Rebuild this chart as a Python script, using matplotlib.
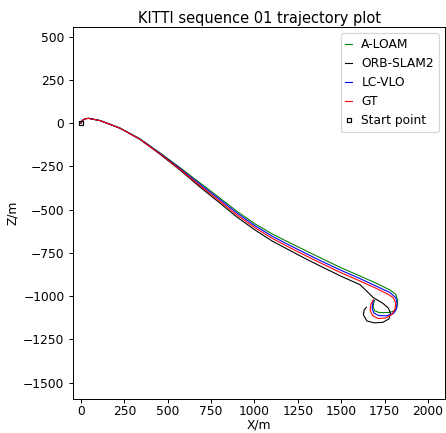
import matplotlib
matplotlib.use("Agg")
import matplotlib.pyplot as plt

# trajectories in the X-Z plane (metres)
gt_x = [0, 8, 25, 45, 110, 225, 340, 455, 571, 686, 800, 900, 1000, 1100, 1205, 1300, 1400, 1500, 1608,
        1700, 1771, 1800, 1814, 1810, 1790, 1755, 1712, 1680, 1666, 1672, 1685]
gt_z = [0, 15, 25, 27, 14, -30, -94, -178, -268, -362, -452, -532, -603, -665, -721, -769, -818, -866, -913,
        -955, -990, -1010, -1040, -1075, -1108, -1127, -1130, -1112, -1080, -1045, -1022]

lcvlo_x = [0, 8, 25, 45, 110, 225, 340, 455, 571, 686, 800, 900, 1000, 1100, 1205, 1300, 1400, 1500, 1608,
           1700, 1781, 1814, 1822, 1818, 1800, 1760, 1715, 1688, 1678, 1682, 1687]
lcvlo_z = [0, 15, 25, 27, 14, -30, -93, -175, -263, -354, -442, -521, -592, -653, -708, -756, -805, -852, -899,
           -942, -980, -1009, -1040, -1075, -1102, -1114, -1113, -1098, -1072, -1040, -1025]

aloam_x = [0, 8, 25, 45, 110, 225, 340, 455, 571, 686, 800, 900, 1000, 1100, 1205, 1300, 1400, 1500, 1608,
           1700, 1781, 1814, 1825, 1822, 1810, 1775, 1720, 1692, 1684, 1688, 1692]
aloam_z = [0, 15, 25, 27, 14, -29, -91, -172, -258, -346, -433, -511, -581, -640, -693, -740, -789, -837, -884,
           -925, -965, -990, -1025, -1062, -1085, -1095, -1096, -1085, -1062, -1035, -1025]

orb_x = [0, 8, 25, 45, 110, 225, 340, 455, 571, 686, 800, 900, 1000, 1100, 1205, 1300, 1400, 1500, 1608,
         1685, 1740, 1772, 1784, 1775, 1740, 1690, 1648, 1628, 1632, 1645]
orb_z = [0, 15, 25, 27, 14, -30, -95, -180, -272, -370, -462, -544, -616, -681, -737, -787, -837, -886, -934,
         -1009, -1042, -1070, -1100, -1132, -1152, -1155, -1144, -1110, -1080, -1065]

start = (0, 0)

fig = plt.figure(figsize=(446 / 88, 433 / 88), dpi=88)
ax = fig.add_axes([73 / 446, 34 / 433, 372 / 446, 372 / 433])

ax.plot(aloam_x, aloam_z, color='g', lw=0.9, label='A-LOAM')
ax.plot(orb_x, orb_z, color='k', lw=0.9, label='ORB-SLAM2')
ax.plot(lcvlo_x, lcvlo_z, color='b', lw=0.9, label='LC-VLO')
ax.plot(gt_x, gt_z, color='r', lw=0.9, label='GT')
ax.plot(start[0], start[1], 's', color='k', mfc='none', ms=4, mew=1, label='Start point')

ax.set_xlim(-46, 2098)
ax.set_ylim(-1595, 555)
ax.set_xticks(range(0, 2001, 250))
ax.set_yticks(range(-1500, 501, 250))
ax.tick_params(axis='x', length=3, pad=2)
ax.set_xlabel('X/m', labelpad=0)
ax.set_ylabel('Z/m', labelpad=3)
ax.set_title('KITTI sequence 01 trajectory plot', pad=3)
ax.legend(loc='upper right', handlelength=0.5)

fig.savefig('out.png', dpi=88)
